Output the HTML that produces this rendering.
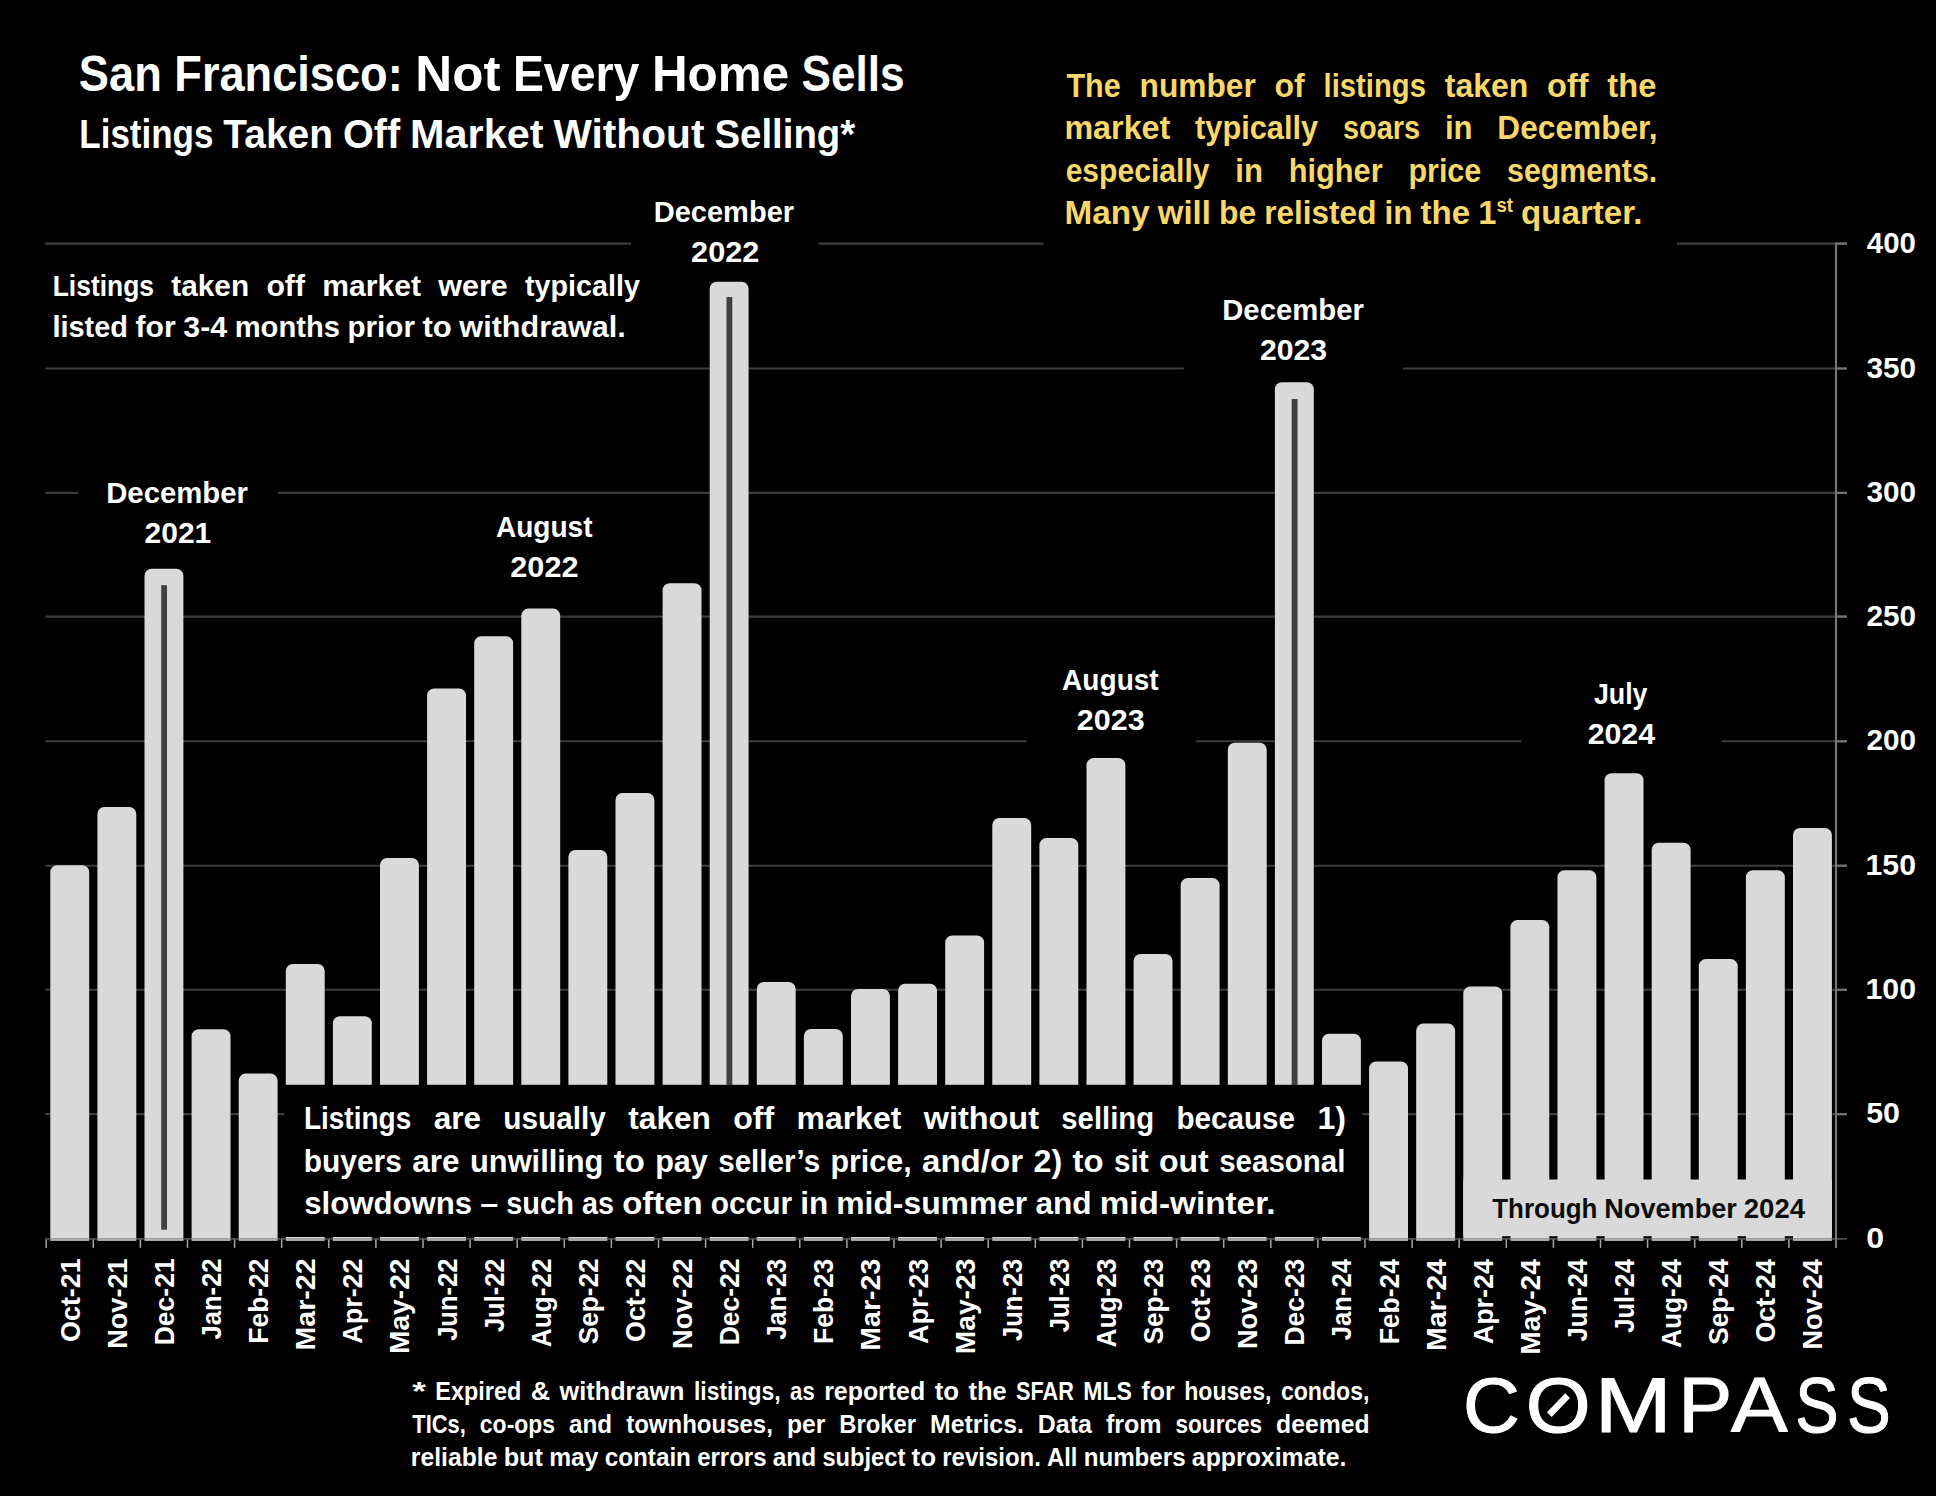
<!DOCTYPE html>
<html lang="en"><head><meta charset="utf-8"><title>San Francisco: Not Every Home Sells</title>
<style>html,body{margin:0;padding:0;background:#000}body{width:1936px;height:1496px;overflow:hidden}svg{display:block}text{font-family:"Liberation Sans",sans-serif;font-weight:bold}</style></head><body>
<svg width="1936" height="1496" viewBox="0 0 1936 1496">
<rect width="1936" height="1496" fill="#000"/>
<g stroke="#3c3c3c" stroke-width="2.1" fill="none">
<line x1="45.4" y1="243.6" x2="631.0" y2="243.6"/>
<line x1="818.5" y1="243.6" x2="1043.5" y2="243.6"/>
<line x1="1677.0" y1="243.6" x2="1846.5" y2="243.6"/>
<line x1="45.4" y1="368.5" x2="1183.8" y2="368.5"/>
<line x1="1402.9" y1="368.5" x2="1846.5" y2="368.5"/>
<line x1="45.4" y1="492.9" x2="78.0" y2="492.9"/>
<line x1="277.9" y1="492.9" x2="1846.5" y2="492.9"/>
<line x1="45.4" y1="616.6" x2="1846.5" y2="616.6"/>
<line x1="45.4" y1="741.3" x2="1026.6" y2="741.3"/>
<line x1="1195.5" y1="741.3" x2="1521.8" y2="741.3"/>
<line x1="1722.0" y1="741.3" x2="1846.5" y2="741.3"/>
<line x1="45.4" y1="865.7" x2="1846.5" y2="865.7"/>
<line x1="45.4" y1="989.8" x2="1846.5" y2="989.8"/>
<line x1="45.4" y1="1114.1" x2="284.6" y2="1114.1"/>
<line x1="1362.0" y1="1114.1" x2="1846.5" y2="1114.1"/>
</g>
<g fill="#d9d9d9">
<path d="M50.3 1240.8V872.2A7.0 7.0 0 0 1 57.3 865.2H82.2A7.0 7.0 0 0 1 89.2 872.2V1240.8Z"/>
<path d="M97.4 1240.8V814.0A7.0 7.0 0 0 1 104.4 807.0H129.3A7.0 7.0 0 0 1 136.3 814.0V1240.8Z"/>
<path d="M144.5 1240.8V575.8A7.0 7.0 0 0 1 151.5 568.8H176.4A7.0 7.0 0 0 1 183.4 575.8V1240.8Z"/>
<path d="M191.6 1240.8V1036.2A7.0 7.0 0 0 1 198.6 1029.2H223.5A7.0 7.0 0 0 1 230.5 1036.2V1240.8Z"/>
<path d="M238.7 1240.8V1080.6A7.0 7.0 0 0 1 245.7 1073.6H270.6A7.0 7.0 0 0 1 277.6 1080.6V1240.8Z"/>
<path d="M285.8 1240.8V970.9A7.0 7.0 0 0 1 292.8 963.9H317.7A7.0 7.0 0 0 1 324.7 970.9V1240.8Z"/>
<path d="M332.9 1240.8V1023.3A7.0 7.0 0 0 1 339.9 1016.3H364.8A7.0 7.0 0 0 1 371.8 1023.3V1240.8Z"/>
<path d="M380.0 1240.8V865.0A7.0 7.0 0 0 1 387.0 858.0H411.9A7.0 7.0 0 0 1 418.9 865.0V1240.8Z"/>
<path d="M427.1 1240.8V695.4A7.0 7.0 0 0 1 434.1 688.4H459.0A7.0 7.0 0 0 1 466.0 695.4V1240.8Z"/>
<path d="M474.2 1240.8V643.2A7.0 7.0 0 0 1 481.2 636.2H506.1A7.0 7.0 0 0 1 513.1 643.2V1240.8Z"/>
<path d="M521.3 1240.8V615.6A7.0 7.0 0 0 1 528.3 608.6H553.2A7.0 7.0 0 0 1 560.2 615.6V1240.8Z"/>
<path d="M568.4 1240.8V857.0A7.0 7.0 0 0 1 575.4 850.0H600.3A7.0 7.0 0 0 1 607.3 857.0V1240.8Z"/>
<path d="M615.5 1240.8V800.0A7.0 7.0 0 0 1 622.5 793.0H647.4A7.0 7.0 0 0 1 654.4 800.0V1240.8Z"/>
<path d="M662.6 1240.8V590.2A7.0 7.0 0 0 1 669.6 583.2H694.5A7.0 7.0 0 0 1 701.5 590.2V1240.8Z"/>
<path d="M709.7 1240.8V288.8A7.0 7.0 0 0 1 716.7 281.8H741.6A7.0 7.0 0 0 1 748.6 288.8V1240.8Z"/>
<path d="M756.8 1240.8V988.9A7.0 7.0 0 0 1 763.8 981.9H788.7A7.0 7.0 0 0 1 795.7 988.9V1240.8Z"/>
<path d="M803.9 1240.8V1036.0A7.0 7.0 0 0 1 810.9 1029.0H835.8A7.0 7.0 0 0 1 842.8 1036.0V1240.8Z"/>
<path d="M851.0 1240.8V996.0A7.0 7.0 0 0 1 858.0 989.0H882.9A7.0 7.0 0 0 1 889.9 996.0V1240.8Z"/>
<path d="M898.1 1240.8V990.7A7.0 7.0 0 0 1 905.1 983.7H930.0A7.0 7.0 0 0 1 937.0 990.7V1240.8Z"/>
<path d="M945.2 1240.8V942.4A7.0 7.0 0 0 1 952.2 935.4H977.1A7.0 7.0 0 0 1 984.1 942.4V1240.8Z"/>
<path d="M992.3 1240.8V824.9A7.0 7.0 0 0 1 999.3 817.9H1024.2A7.0 7.0 0 0 1 1031.2 824.9V1240.8Z"/>
<path d="M1039.4 1240.8V845.1A7.0 7.0 0 0 1 1046.4 838.1H1071.3A7.0 7.0 0 0 1 1078.3 845.1V1240.8Z"/>
<path d="M1086.5 1240.8V765.1A7.0 7.0 0 0 1 1093.5 758.1H1118.4A7.0 7.0 0 0 1 1125.4 765.1V1240.8Z"/>
<path d="M1133.6 1240.8V961.0A7.0 7.0 0 0 1 1140.6 954.0H1165.5A7.0 7.0 0 0 1 1172.5 961.0V1240.8Z"/>
<path d="M1180.7 1240.8V885.1A7.0 7.0 0 0 1 1187.7 878.1H1212.6A7.0 7.0 0 0 1 1219.6 885.1V1240.8Z"/>
<path d="M1227.8 1240.8V749.8A7.0 7.0 0 0 1 1234.8 742.8H1259.7A7.0 7.0 0 0 1 1266.7 749.8V1240.8Z"/>
<path d="M1274.9 1240.8V389.3A7.0 7.0 0 0 1 1281.9 382.3H1306.8A7.0 7.0 0 0 1 1313.8 389.3V1240.8Z"/>
<path d="M1322.0 1240.8V1040.8A7.0 7.0 0 0 1 1329.0 1033.8H1353.9A7.0 7.0 0 0 1 1360.9 1040.8V1240.8Z"/>
<path d="M1369.1 1240.8V1068.4A7.0 7.0 0 0 1 1376.1 1061.4H1401.0A7.0 7.0 0 0 1 1408.0 1068.4V1240.8Z"/>
<path d="M1416.2 1240.8V1030.6A7.0 7.0 0 0 1 1423.2 1023.6H1448.1A7.0 7.0 0 0 1 1455.1 1030.6V1240.8Z"/>
<path d="M1463.3 1240.8V993.4A7.0 7.0 0 0 1 1470.3 986.4H1495.2A7.0 7.0 0 0 1 1502.2 993.4V1240.8Z"/>
<path d="M1510.4 1240.8V927.1A7.0 7.0 0 0 1 1517.4 920.1H1542.3A7.0 7.0 0 0 1 1549.3 927.1V1240.8Z"/>
<path d="M1557.5 1240.8V877.2A7.0 7.0 0 0 1 1564.5 870.2H1589.4A7.0 7.0 0 0 1 1596.4 877.2V1240.8Z"/>
<path d="M1604.6 1240.8V780.3A7.0 7.0 0 0 1 1611.6 773.3H1636.5A7.0 7.0 0 0 1 1643.5 780.3V1240.8Z"/>
<path d="M1651.7 1240.8V849.7A7.0 7.0 0 0 1 1658.7 842.7H1683.6A7.0 7.0 0 0 1 1690.6 849.7V1240.8Z"/>
<path d="M1698.8 1240.8V966.1A7.0 7.0 0 0 1 1705.8 959.1H1730.7A7.0 7.0 0 0 1 1737.7 966.1V1240.8Z"/>
<path d="M1745.9 1240.8V877.2A7.0 7.0 0 0 1 1752.9 870.2H1777.8A7.0 7.0 0 0 1 1784.8 877.2V1240.8Z"/>
<path d="M1793.0 1240.8V835.0A7.0 7.0 0 0 1 1800.0 828.0H1824.9A7.0 7.0 0 0 1 1831.9 835.0V1240.8Z"/>
</g>
<rect x="161.2" y="585.2" width="5.8" height="644.5" fill="#404040"/>
<rect x="726.5" y="297.0" width="5.8" height="932.7" fill="#404040"/>
<rect x="1291.7" y="399.0" width="5.8" height="830.7" fill="#404040"/>
<rect x="284.6" y="1084.8" width="1077.4" height="152.2" fill="#000"/>
<rect x="1463.3" y="1179.5" width="368.6" height="56.7" fill="#d9d9d9"/>
<line x1="45.3" y1="1238.9" x2="1846.8" y2="1238.9" stroke="#7a7a7a" stroke-opacity="0.62" stroke-width="1.7"/>
<g stroke="#a6a6a6" stroke-width="1.5" fill="none">
<line x1="46.2" y1="1239.4" x2="46.2" y2="1247.9"/>
<line x1="93.3" y1="1239.4" x2="93.3" y2="1247.9"/>
<line x1="140.4" y1="1239.4" x2="140.4" y2="1247.9"/>
<line x1="187.5" y1="1239.4" x2="187.5" y2="1247.9"/>
<line x1="234.6" y1="1239.4" x2="234.6" y2="1247.9"/>
<line x1="281.7" y1="1239.4" x2="281.7" y2="1247.9"/>
<line x1="328.8" y1="1239.4" x2="328.8" y2="1247.9"/>
<line x1="375.9" y1="1239.4" x2="375.9" y2="1247.9"/>
<line x1="423.0" y1="1239.4" x2="423.0" y2="1247.9"/>
<line x1="470.1" y1="1239.4" x2="470.1" y2="1247.9"/>
<line x1="517.2" y1="1239.4" x2="517.2" y2="1247.9"/>
<line x1="564.3" y1="1239.4" x2="564.3" y2="1247.9"/>
<line x1="611.4" y1="1239.4" x2="611.4" y2="1247.9"/>
<line x1="658.5" y1="1239.4" x2="658.5" y2="1247.9"/>
<line x1="705.6" y1="1239.4" x2="705.6" y2="1247.9"/>
<line x1="752.7" y1="1239.4" x2="752.7" y2="1247.9"/>
<line x1="799.8" y1="1239.4" x2="799.8" y2="1247.9"/>
<line x1="846.9" y1="1239.4" x2="846.9" y2="1247.9"/>
<line x1="894.0" y1="1239.4" x2="894.0" y2="1247.9"/>
<line x1="941.1" y1="1239.4" x2="941.1" y2="1247.9"/>
<line x1="988.2" y1="1239.4" x2="988.2" y2="1247.9"/>
<line x1="1035.3" y1="1239.4" x2="1035.3" y2="1247.9"/>
<line x1="1082.4" y1="1239.4" x2="1082.4" y2="1247.9"/>
<line x1="1129.5" y1="1239.4" x2="1129.5" y2="1247.9"/>
<line x1="1176.6" y1="1239.4" x2="1176.6" y2="1247.9"/>
<line x1="1223.7" y1="1239.4" x2="1223.7" y2="1247.9"/>
<line x1="1270.8" y1="1239.4" x2="1270.8" y2="1247.9"/>
<line x1="1317.9" y1="1239.4" x2="1317.9" y2="1247.9"/>
<line x1="1365.0" y1="1239.4" x2="1365.0" y2="1247.9"/>
<line x1="1412.1" y1="1239.4" x2="1412.1" y2="1247.9"/>
<line x1="1459.2" y1="1239.4" x2="1459.2" y2="1247.9"/>
<line x1="1506.3" y1="1239.4" x2="1506.3" y2="1247.9"/>
<line x1="1553.4" y1="1239.4" x2="1553.4" y2="1247.9"/>
<line x1="1600.5" y1="1239.4" x2="1600.5" y2="1247.9"/>
<line x1="1647.6" y1="1239.4" x2="1647.6" y2="1247.9"/>
<line x1="1694.7" y1="1239.4" x2="1694.7" y2="1247.9"/>
<line x1="1741.8" y1="1239.4" x2="1741.8" y2="1247.9"/>
<line x1="1788.9" y1="1239.4" x2="1788.9" y2="1247.9"/>
</g>
<g stroke="#747474" stroke-width="2.2" fill="none">
<line x1="1836.0" y1="242.6" x2="1836.0" y2="1247.9"/>
<line x1="1836.0" y1="243.6" x2="1847.0" y2="243.6"/>
<line x1="1836.0" y1="368.5" x2="1847.0" y2="368.5"/>
<line x1="1836.0" y1="492.9" x2="1847.0" y2="492.9"/>
<line x1="1836.0" y1="616.6" x2="1847.0" y2="616.6"/>
<line x1="1836.0" y1="741.3" x2="1847.0" y2="741.3"/>
<line x1="1836.0" y1="865.7" x2="1847.0" y2="865.7"/>
<line x1="1836.0" y1="989.8" x2="1847.0" y2="989.8"/>
<line x1="1836.0" y1="1114.1" x2="1847.0" y2="1114.1"/>
</g>
<text id="title" y="91.40" font-size="50.33" fill="#fff"><tspan x="78.87" textLength="82.95" lengthAdjust="spacingAndGlyphs">San</tspan> <tspan x="174.29" textLength="228.48" lengthAdjust="spacingAndGlyphs">Francisco:</tspan> <tspan x="415.25" textLength="85.16" lengthAdjust="spacingAndGlyphs">Not</tspan> <tspan x="512.88" textLength="126.58" lengthAdjust="spacingAndGlyphs">Every</tspan> <tspan x="651.94" textLength="137.17" lengthAdjust="spacingAndGlyphs">Home</tspan> <tspan x="801.59" textLength="103.00" lengthAdjust="spacingAndGlyphs">Sells</tspan></text>
<text id="sub" y="148.20" font-size="39.80" fill="#fff"><tspan x="79.27" textLength="134.20" lengthAdjust="spacingAndGlyphs">Listings</tspan> <tspan x="223.35" textLength="109.69" lengthAdjust="spacingAndGlyphs">Taken</tspan> <tspan x="342.93" textLength="57.24" lengthAdjust="spacingAndGlyphs">Off</tspan> <tspan x="410.05" textLength="133.49" lengthAdjust="spacingAndGlyphs">Market</tspan> <tspan x="553.42" textLength="151.10" lengthAdjust="spacingAndGlyphs">Without</tspan> <tspan x="714.41" textLength="140.86" lengthAdjust="spacingAndGlyphs">Selling*</tspan></text>
<text id="la1" y="295.90" font-size="30.20" fill="#fff"><tspan x="52.73" textLength="101.29" lengthAdjust="spacingAndGlyphs">Listings</tspan> <tspan x="171.26" textLength="77.89" lengthAdjust="spacingAndGlyphs">taken</tspan> <tspan x="266.40" textLength="38.62" lengthAdjust="spacingAndGlyphs">off</tspan> <tspan x="322.26" textLength="98.76" lengthAdjust="spacingAndGlyphs">market</tspan> <tspan x="438.26" textLength="69.54" lengthAdjust="spacingAndGlyphs">were</tspan> <tspan x="525.04" textLength="114.82" lengthAdjust="spacingAndGlyphs">typically</tspan></text>
<text id="la2" y="336.90" font-size="30.20" fill="#fff"><tspan x="52.42" textLength="75.65" lengthAdjust="spacingAndGlyphs">listed</tspan> <tspan x="135.58" textLength="40.19" lengthAdjust="spacingAndGlyphs">for</tspan> <tspan x="183.28" textLength="43.85" lengthAdjust="spacingAndGlyphs">3-4</tspan> <tspan x="234.65" textLength="105.33" lengthAdjust="spacingAndGlyphs">months</tspan> <tspan x="347.48" textLength="67.48" lengthAdjust="spacingAndGlyphs">prior</tspan> <tspan x="422.47" textLength="29.38" lengthAdjust="spacingAndGlyphs">to</tspan> <tspan x="459.36" textLength="166.51" lengthAdjust="spacingAndGlyphs">withdrawal.</tspan></text>
<text id="y1" y="96.60" font-size="32.39" fill="#F8D76B"><tspan x="1066.41" textLength="54.34" lengthAdjust="spacingAndGlyphs">The</tspan> <tspan x="1139.55" textLength="116.19" lengthAdjust="spacingAndGlyphs">number</tspan> <tspan x="1274.54" textLength="30.23" lengthAdjust="spacingAndGlyphs">of</tspan> <tspan x="1323.56" textLength="102.38" lengthAdjust="spacingAndGlyphs">listings</tspan> <tspan x="1444.74" textLength="83.56" lengthAdjust="spacingAndGlyphs">taken</tspan> <tspan x="1547.09" textLength="41.43" lengthAdjust="spacingAndGlyphs">off</tspan> <tspan x="1607.32" textLength="49.09" lengthAdjust="spacingAndGlyphs">the</tspan></text>
<text id="y2" y="138.90" font-size="32.39" fill="#F8D76B"><tspan x="1064.40" textLength="105.94" lengthAdjust="spacingAndGlyphs">market</tspan> <tspan x="1195.04" textLength="123.17" lengthAdjust="spacingAndGlyphs">typically</tspan> <tspan x="1342.92" textLength="77.33" lengthAdjust="spacingAndGlyphs">soars</tspan> <tspan x="1444.96" textLength="27.69" lengthAdjust="spacingAndGlyphs">in</tspan> <tspan x="1497.36" textLength="160.10" lengthAdjust="spacingAndGlyphs">December,</tspan></text>
<text id="y3" y="181.60" font-size="32.39" fill="#F8D76B"><tspan x="1065.63" textLength="143.90" lengthAdjust="spacingAndGlyphs">especially</tspan> <tspan x="1235.29" textLength="27.69" lengthAdjust="spacingAndGlyphs">in</tspan> <tspan x="1288.74" textLength="93.88" lengthAdjust="spacingAndGlyphs">higher</tspan> <tspan x="1408.38" textLength="72.91" lengthAdjust="spacingAndGlyphs">price</tspan> <tspan x="1507.05" textLength="150.19" lengthAdjust="spacingAndGlyphs">segments.</tspan></text>
<text id="y4" y="224.10" font-size="32.39" fill="#F8D76B"><tspan x="1064.64" textLength="85.08" lengthAdjust="spacingAndGlyphs">Many</tspan> <tspan x="1157.81" textLength="53.02" lengthAdjust="spacingAndGlyphs">will</tspan> <tspan x="1218.92" textLength="37.21" lengthAdjust="spacingAndGlyphs">be</tspan> <tspan x="1264.22" textLength="112.19" lengthAdjust="spacingAndGlyphs">relisted</tspan> <tspan x="1384.50" textLength="27.99" lengthAdjust="spacingAndGlyphs">in</tspan> <tspan x="1420.57" textLength="49.61" lengthAdjust="spacingAndGlyphs">the</tspan> <tspan x="1478.27" textLength="18.13" lengthAdjust="spacingAndGlyphs">1</tspan><tspan dy="-11.7" font-size="20.08" textLength="16.54" lengthAdjust="spacingAndGlyphs">st</tspan> <tspan x="1521.04" dy="11.7" textLength="121.47" lengthAdjust="spacingAndGlyphs">quarter.</tspan></text>
<text id="b1" y="1128.70" font-size="32.02" fill="#fff"><tspan x="303.88" textLength="107.43" lengthAdjust="spacingAndGlyphs">Listings</tspan> <tspan x="433.66" textLength="47.34" lengthAdjust="spacingAndGlyphs">are</tspan> <tspan x="503.35" textLength="102.57" lengthAdjust="spacingAndGlyphs">usually</tspan> <tspan x="628.27" textLength="82.61" lengthAdjust="spacingAndGlyphs">taken</tspan> <tspan x="733.24" textLength="40.96" lengthAdjust="spacingAndGlyphs">off</tspan> <tspan x="796.55" textLength="104.74" lengthAdjust="spacingAndGlyphs">market</tspan> <tspan x="923.65" textLength="115.32" lengthAdjust="spacingAndGlyphs">without</tspan> <tspan x="1061.32" textLength="92.75" lengthAdjust="spacingAndGlyphs">selling</tspan> <tspan x="1176.42" textLength="118.69" lengthAdjust="spacingAndGlyphs">because</tspan> <tspan x="1317.45" textLength="28.64" lengthAdjust="spacingAndGlyphs">1)</tspan></text>
<text id="b2" y="1171.60" font-size="32.02" fill="#fff"><tspan x="303.73" textLength="98.16" lengthAdjust="spacingAndGlyphs">buyers</tspan> <tspan x="412.30" textLength="47.34" lengthAdjust="spacingAndGlyphs">are</tspan> <tspan x="470.04" textLength="133.40" lengthAdjust="spacingAndGlyphs">unwilling</tspan> <tspan x="613.85" textLength="30.95" lengthAdjust="spacingAndGlyphs">to</tspan> <tspan x="655.20" textLength="52.64" lengthAdjust="spacingAndGlyphs">pay</tspan> <tspan x="718.25" textLength="101.82" lengthAdjust="spacingAndGlyphs">seller’s</tspan> <tspan x="830.47" textLength="81.11" lengthAdjust="spacingAndGlyphs">price,</tspan> <tspan x="921.99" textLength="101.14" lengthAdjust="spacingAndGlyphs">and/or</tspan> <tspan x="1033.53" textLength="28.64" lengthAdjust="spacingAndGlyphs">2)</tspan> <tspan x="1072.58" textLength="30.95" lengthAdjust="spacingAndGlyphs">to</tspan> <tspan x="1113.93" textLength="34.69" lengthAdjust="spacingAndGlyphs">sit</tspan> <tspan x="1159.03" textLength="49.73" lengthAdjust="spacingAndGlyphs">out</tspan> <tspan x="1219.17" textLength="126.29" lengthAdjust="spacingAndGlyphs">seasonal</tspan></text>
<text id="b3" y="1213.90" font-size="32.02" fill="#fff"><tspan x="304.15" textLength="167.95" lengthAdjust="spacingAndGlyphs">slowdowns</tspan> <tspan x="480.21" textLength="17.87" lengthAdjust="spacingAndGlyphs">–</tspan> <tspan x="506.19" textLength="67.82" lengthAdjust="spacingAndGlyphs">such</tspan> <tspan x="582.12" textLength="32.02" lengthAdjust="spacingAndGlyphs">as</tspan> <tspan x="622.25" textLength="80.38" lengthAdjust="spacingAndGlyphs">often</tspan> <tspan x="710.73" textLength="81.31" lengthAdjust="spacingAndGlyphs">occur</tspan> <tspan x="800.15" textLength="28.06" lengthAdjust="spacingAndGlyphs">in</tspan> <tspan x="836.32" textLength="190.95" lengthAdjust="spacingAndGlyphs">mid-summer</tspan> <tspan x="1035.38" textLength="56.21" lengthAdjust="spacingAndGlyphs">and</tspan> <tspan x="1099.69" textLength="175.83" lengthAdjust="spacingAndGlyphs">mid-winter.</tspan></text>
<text id="f1" y="1400.00" font-size="25.16" fill="#fff"><tspan x="412.19" textLength="13.70" lengthAdjust="spacingAndGlyphs">*</tspan> <tspan x="435.37" textLength="85.94" lengthAdjust="spacingAndGlyphs">Expired</tspan> <tspan x="530.78" textLength="19.38" lengthAdjust="spacingAndGlyphs">&amp;</tspan> <tspan x="559.64" textLength="124.89" lengthAdjust="spacingAndGlyphs">withdrawn</tspan> <tspan x="694.01" textLength="86.62" lengthAdjust="spacingAndGlyphs">listings,</tspan> <tspan x="790.11" textLength="24.55" lengthAdjust="spacingAndGlyphs">as</tspan> <tspan x="824.14" textLength="101.07" lengthAdjust="spacingAndGlyphs">reported</tspan> <tspan x="934.69" textLength="24.32" lengthAdjust="spacingAndGlyphs">to</tspan> <tspan x="968.48" textLength="38.13" lengthAdjust="spacingAndGlyphs">the</tspan> <tspan x="1016.10" textLength="57.77" lengthAdjust="spacingAndGlyphs">SFAR</tspan> <tspan x="1083.34" textLength="48.66" lengthAdjust="spacingAndGlyphs">MLS</tspan> <tspan x="1141.49" textLength="33.26" lengthAdjust="spacingAndGlyphs">for</tspan> <tspan x="1184.23" textLength="87.17" lengthAdjust="spacingAndGlyphs">houses,</tspan> <tspan x="1280.88" textLength="88.65" lengthAdjust="spacingAndGlyphs">condos,</tspan></text>
<text id="f2" y="1433.30" font-size="25.16" fill="#fff"><tspan x="412.29" textLength="53.56" lengthAdjust="spacingAndGlyphs">TICs,</tspan> <tspan x="479.86" textLength="75.22" lengthAdjust="spacingAndGlyphs">co-ops</tspan> <tspan x="569.08" textLength="43.09" lengthAdjust="spacingAndGlyphs">and</tspan> <tspan x="626.17" textLength="146.74" lengthAdjust="spacingAndGlyphs">townhouses,</tspan> <tspan x="786.91" textLength="38.38" lengthAdjust="spacingAndGlyphs">per</tspan> <tspan x="839.29" textLength="76.79" lengthAdjust="spacingAndGlyphs">Broker</tspan> <tspan x="930.09" textLength="93.77" lengthAdjust="spacingAndGlyphs">Metrics.</tspan> <tspan x="1037.86" textLength="54.02" lengthAdjust="spacingAndGlyphs">Data</tspan> <tspan x="1105.88" textLength="55.63" lengthAdjust="spacingAndGlyphs">from</tspan> <tspan x="1175.51" textLength="86.61" lengthAdjust="spacingAndGlyphs">sources</tspan> <tspan x="1276.12" textLength="93.42" lengthAdjust="spacingAndGlyphs">deemed</tspan></text>
<text id="f3" y="1466.40" font-size="25.16" fill="#fff"><tspan x="410.84" textLength="86.58" lengthAdjust="spacingAndGlyphs">reliable</tspan> <tspan x="503.68" textLength="39.29" lengthAdjust="spacingAndGlyphs">but</tspan> <tspan x="549.22" textLength="49.27" lengthAdjust="spacingAndGlyphs">may</tspan> <tspan x="604.74" textLength="86.19" lengthAdjust="spacingAndGlyphs">contain</tspan> <tspan x="697.19" textLength="69.35" lengthAdjust="spacingAndGlyphs">errors</tspan> <tspan x="772.79" textLength="43.35" lengthAdjust="spacingAndGlyphs">and</tspan> <tspan x="822.40" textLength="82.90" lengthAdjust="spacingAndGlyphs">subject</tspan> <tspan x="911.55" textLength="24.47" lengthAdjust="spacingAndGlyphs">to</tspan> <tspan x="942.27" textLength="98.59" lengthAdjust="spacingAndGlyphs">revision.</tspan> <tspan x="1047.12" textLength="30.36" lengthAdjust="spacingAndGlyphs">All</tspan> <tspan x="1083.73" textLength="101.85" lengthAdjust="spacingAndGlyphs">numbers</tspan> <tspan x="1191.83" textLength="154.65" lengthAdjust="spacingAndGlyphs">approximate.</tspan></text>
<text id="thru" y="1217.90" font-size="27.68" fill="#0d0d0d"><tspan x="1492.29" textLength="105.13" lengthAdjust="spacingAndGlyphs">Through</tspan> <tspan x="1604.26" textLength="132.67" lengthAdjust="spacingAndGlyphs">November</tspan> <tspan x="1743.77" textLength="61.38" lengthAdjust="spacingAndGlyphs">2024</tspan></text>
<text id="d21a" y="502.60" font-size="30.20" fill="#fff"><tspan x="106.19" textLength="141.83" lengthAdjust="spacingAndGlyphs">December</tspan></text>
<text id="d21b" y="542.90" font-size="30.20" fill="#fff"><tspan x="144.50" textLength="66.77" lengthAdjust="spacingAndGlyphs">2021</tspan></text>
<text id="a22a" y="537.00" font-size="30.20" fill="#fff"><tspan x="495.89" textLength="96.61" lengthAdjust="spacingAndGlyphs">August</tspan></text>
<text id="a22b" y="577.00" font-size="30.20" fill="#fff"><tspan x="510.29" textLength="68.22" lengthAdjust="spacingAndGlyphs">2022</tspan></text>
<text id="d22a" y="221.80" font-size="30.20" fill="#fff"><tspan x="653.71" textLength="140.40" lengthAdjust="spacingAndGlyphs">December</tspan></text>
<text id="d22b" y="262.10" font-size="30.20" fill="#fff"><tspan x="691.12" textLength="68.20" lengthAdjust="spacingAndGlyphs">2022</tspan></text>
<text id="a23a" y="689.90" font-size="30.20" fill="#fff"><tspan x="1062.12" textLength="96.60" lengthAdjust="spacingAndGlyphs">August</tspan></text>
<text id="a23b" y="729.90" font-size="30.20" fill="#fff"><tspan x="1076.84" textLength="67.87" lengthAdjust="spacingAndGlyphs">2023</tspan></text>
<text id="d23a" y="320.00" font-size="30.20" fill="#fff"><tspan x="1222.18" textLength="141.72" lengthAdjust="spacingAndGlyphs">December</tspan></text>
<text id="d23b" y="360.30" font-size="30.20" fill="#fff"><tspan x="1259.88" textLength="67.19" lengthAdjust="spacingAndGlyphs">2023</tspan></text>
<text id="j24a" y="703.70" font-size="30.20" fill="#fff"><tspan x="1593.90" textLength="53.64" lengthAdjust="spacingAndGlyphs">July</tspan></text>
<text id="j24b" y="744.10" font-size="30.20" fill="#fff"><tspan x="1587.65" textLength="67.38" lengthAdjust="spacingAndGlyphs">2024</tspan></text>
<text id="yl400" y="252.70" font-size="30.20" fill="#fff"><tspan x="1866.81" textLength="49.12" lengthAdjust="spacingAndGlyphs">400</tspan></text>
<text id="yl350" y="377.60" font-size="30.20" fill="#fff"><tspan x="1866.43" textLength="49.66" lengthAdjust="spacingAndGlyphs">350</tspan></text>
<text id="yl300" y="502.00" font-size="30.20" fill="#fff"><tspan x="1866.43" textLength="49.66" lengthAdjust="spacingAndGlyphs">300</tspan></text>
<text id="yl250" y="625.70" font-size="30.20" fill="#fff"><tspan x="1866.38" textLength="49.60" lengthAdjust="spacingAndGlyphs">250</tspan></text>
<text id="yl200" y="750.40" font-size="30.20" fill="#fff"><tspan x="1866.38" textLength="49.60" lengthAdjust="spacingAndGlyphs">200</tspan></text>
<text id="yl150" y="874.80" font-size="30.20" fill="#fff"><tspan x="1865.49" textLength="50.54" lengthAdjust="spacingAndGlyphs">150</tspan></text>
<text id="yl100" y="998.90" font-size="30.20" fill="#fff"><tspan x="1865.49" textLength="50.54" lengthAdjust="spacingAndGlyphs">100</tspan></text>
<text id="yl50" y="1123.20" font-size="30.20" fill="#fff"><tspan x="1866.13" textLength="33.74" lengthAdjust="spacingAndGlyphs">50</tspan></text>
<text id="yl0" y="1248.30" font-size="30.20" fill="#fff"><tspan x="1866.19" textLength="17.85" lengthAdjust="spacingAndGlyphs">0</tspan></text>
<g font-size="27.68" fill="#fff" text-anchor="end">
<text id="xl0" transform="translate(79.75 1258.38) rotate(-90)" textLength="83.53" lengthAdjust="spacingAndGlyphs">Oct-21</text>
<text id="xl1" transform="translate(126.85 1258.38) rotate(-90)" textLength="90.43" lengthAdjust="spacingAndGlyphs">Nov-21</text>
<text id="xl2" transform="translate(173.95 1258.38) rotate(-90)" textLength="86.88" lengthAdjust="spacingAndGlyphs">Dec-21</text>
<text id="xl3" transform="translate(221.05 1258.47) rotate(-90)" textLength="81.10" lengthAdjust="spacingAndGlyphs">Jan-22</text>
<text id="xl4" transform="translate(268.15 1258.47) rotate(-90)" textLength="85.27" lengthAdjust="spacingAndGlyphs">Feb-22</text>
<text id="xl5" transform="translate(315.25 1258.47) rotate(-90)" textLength="92.05" lengthAdjust="spacingAndGlyphs">Mar-22</text>
<text id="xl6" transform="translate(362.35 1258.47) rotate(-90)" textLength="85.24" lengthAdjust="spacingAndGlyphs">Apr-22</text>
<text id="xl7" transform="translate(409.45 1258.47) rotate(-90)" textLength="95.62" lengthAdjust="spacingAndGlyphs">May-22</text>
<text id="xl8" transform="translate(456.55 1258.47) rotate(-90)" textLength="82.40" lengthAdjust="spacingAndGlyphs">Jun-22</text>
<text id="xl9" transform="translate(503.65 1258.47) rotate(-90)" textLength="73.60" lengthAdjust="spacingAndGlyphs">Jul-22</text>
<text id="xl10" transform="translate(550.75 1258.47) rotate(-90)" textLength="88.83" lengthAdjust="spacingAndGlyphs">Aug-22</text>
<text id="xl11" transform="translate(597.85 1258.47) rotate(-90)" textLength="85.68" lengthAdjust="spacingAndGlyphs">Sep-22</text>
<text id="xl12" transform="translate(644.95 1258.47) rotate(-90)" textLength="83.53" lengthAdjust="spacingAndGlyphs">Oct-22</text>
<text id="xl13" transform="translate(692.05 1258.47) rotate(-90)" textLength="90.43" lengthAdjust="spacingAndGlyphs">Nov-22</text>
<text id="xl14" transform="translate(739.15 1258.47) rotate(-90)" textLength="86.88" lengthAdjust="spacingAndGlyphs">Dec-22</text>
<text id="xl15" transform="translate(786.25 1258.68) rotate(-90)" textLength="81.10" lengthAdjust="spacingAndGlyphs">Jan-23</text>
<text id="xl16" transform="translate(833.35 1258.68) rotate(-90)" textLength="85.27" lengthAdjust="spacingAndGlyphs">Feb-23</text>
<text id="xl17" transform="translate(880.45 1258.68) rotate(-90)" textLength="92.05" lengthAdjust="spacingAndGlyphs">Mar-23</text>
<text id="xl18" transform="translate(927.55 1258.68) rotate(-90)" textLength="85.24" lengthAdjust="spacingAndGlyphs">Apr-23</text>
<text id="xl19" transform="translate(974.65 1258.68) rotate(-90)" textLength="95.62" lengthAdjust="spacingAndGlyphs">May-23</text>
<text id="xl20" transform="translate(1021.75 1258.68) rotate(-90)" textLength="82.40" lengthAdjust="spacingAndGlyphs">Jun-23</text>
<text id="xl21" transform="translate(1068.85 1258.68) rotate(-90)" textLength="73.60" lengthAdjust="spacingAndGlyphs">Jul-23</text>
<text id="xl22" transform="translate(1115.95 1258.68) rotate(-90)" textLength="88.83" lengthAdjust="spacingAndGlyphs">Aug-23</text>
<text id="xl23" transform="translate(1163.05 1258.68) rotate(-90)" textLength="85.68" lengthAdjust="spacingAndGlyphs">Sep-23</text>
<text id="xl24" transform="translate(1210.15 1258.68) rotate(-90)" textLength="83.53" lengthAdjust="spacingAndGlyphs">Oct-23</text>
<text id="xl25" transform="translate(1257.25 1258.68) rotate(-90)" textLength="90.43" lengthAdjust="spacingAndGlyphs">Nov-23</text>
<text id="xl26" transform="translate(1304.35 1258.68) rotate(-90)" textLength="86.88" lengthAdjust="spacingAndGlyphs">Dec-23</text>
<text id="xl27" transform="translate(1351.45 1259.06) rotate(-90)" textLength="81.10" lengthAdjust="spacingAndGlyphs">Jan-24</text>
<text id="xl28" transform="translate(1398.55 1259.06) rotate(-90)" textLength="85.27" lengthAdjust="spacingAndGlyphs">Feb-24</text>
<text id="xl29" transform="translate(1445.65 1259.06) rotate(-90)" textLength="92.05" lengthAdjust="spacingAndGlyphs">Mar-24</text>
<text id="xl30" transform="translate(1492.75 1259.06) rotate(-90)" textLength="85.24" lengthAdjust="spacingAndGlyphs">Apr-24</text>
<text id="xl31" transform="translate(1539.85 1259.06) rotate(-90)" textLength="95.62" lengthAdjust="spacingAndGlyphs">May-24</text>
<text id="xl32" transform="translate(1586.95 1259.06) rotate(-90)" textLength="82.40" lengthAdjust="spacingAndGlyphs">Jun-24</text>
<text id="xl33" transform="translate(1634.05 1259.06) rotate(-90)" textLength="73.60" lengthAdjust="spacingAndGlyphs">Jul-24</text>
<text id="xl34" transform="translate(1681.15 1259.06) rotate(-90)" textLength="88.83" lengthAdjust="spacingAndGlyphs">Aug-24</text>
<text id="xl35" transform="translate(1728.25 1259.06) rotate(-90)" textLength="85.68" lengthAdjust="spacingAndGlyphs">Sep-24</text>
<text id="xl36" transform="translate(1775.35 1259.06) rotate(-90)" textLength="83.53" lengthAdjust="spacingAndGlyphs">Oct-24</text>
<text id="xl37" transform="translate(1822.45 1259.06) rotate(-90)" textLength="90.43" lengthAdjust="spacingAndGlyphs">Nov-24</text>
</g>
<text id="logo" y="1432.2" font-size="78.0" fill="#fff" stroke="#fff" stroke-width="1.1" stroke-linejoin="round" style="font-weight:normal"><tspan x="1462.90" textLength="56.90" lengthAdjust="spacingAndGlyphs">C</tspan><tspan x="1525.65" textLength="64.95" lengthAdjust="spacingAndGlyphs">O</tspan><tspan x="1594.72" textLength="76.96" lengthAdjust="spacingAndGlyphs">M</tspan><tspan x="1678.26" textLength="54.01" lengthAdjust="spacingAndGlyphs">P</tspan><tspan x="1731.03" textLength="56.73" lengthAdjust="spacingAndGlyphs">A</tspan><tspan x="1795.35" textLength="43.33" lengthAdjust="spacingAndGlyphs">S</tspan><tspan x="1847.03" textLength="43.68" lengthAdjust="spacingAndGlyphs">S</tspan></text>
<line x1="1549.3" y1="1414.6" x2="1567.6" y2="1395.6" stroke="#fff" stroke-width="6.6"/>
</svg></body></html>
